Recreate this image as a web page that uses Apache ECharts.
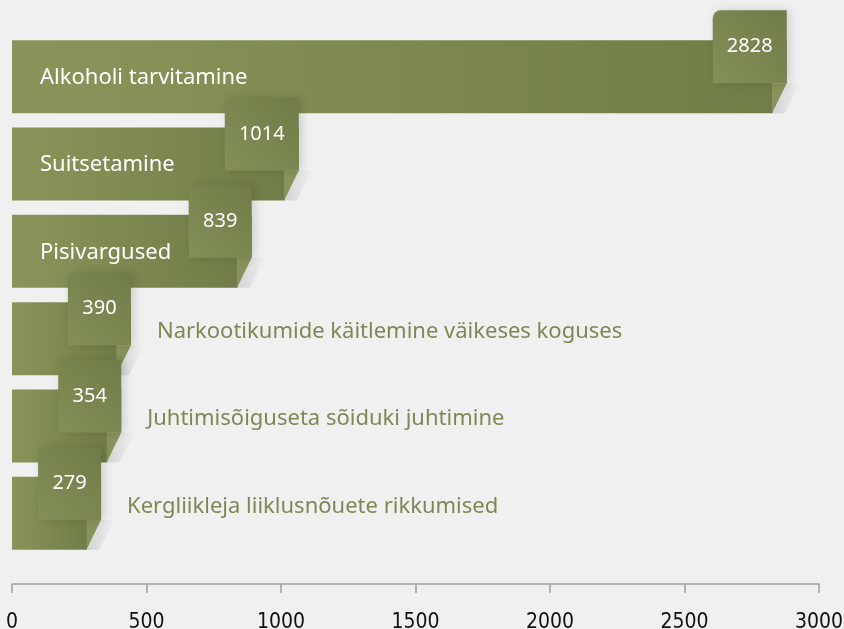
<!DOCTYPE html>
<html>
<head>
<meta charset="utf-8">
<script src="https://cdn.jsdelivr.net/npm/echarts@6/dist/echarts.min.js"></script>
<style>
html,body{margin:0;padding:0;background:#f0f0f0;}
#chart{width:844px;height:629px;}
</style>
</head>
<body>
<div id="chart"></div>
<script>
const categories = [
  'Alkoholi tarvitamine',
  'Suitsetamine',
  'Pisivargused',
  'Narkootikumide käitlemine väikeses koguses',
  'Juhtimisõiguseta sõiduki juhtimine',
  'Kergliikleja liiklusnõuete rikkumised'
];
const values = [2828, 1014, 839, 390, 354, 279];
const xTicks = [0, 500, 1000, 1500, 2000, 2500, 3000];

const FONT = "'Noto Sans', 'Open Sans', sans-serif";
const insideThreshold = 500;

function renderItem(params, api) {
  const v = api.value(0);
  const i = params.dataIndex;
  const pEnd = api.coord([v, i]);
  const x0 = api.coord([0, i])[0];
  const bandH = api.size([0, 1])[1];
  const barH = bandH * 0.835;
  const yc = pEnd[1];
  const top = yc - barH / 2, bot = yc + barH / 2;
  const xe = pEnd[0];
  const F = 14;
  const boxW = 30 + String(v).length * 11;
  const boxTop = top - 30, boxH = 73, boxBot = boxTop + boxH;
  const boxRight = xe + F, boxLeft = boxRight - boxW;
  const inside = v > insideThreshold;
  const children = [
    {
      type: 'polygon',
      shape: { points: [[xe + F, boxBot], [xe + F + 14, boxBot], [xe + 12, bot], [xe, bot]] },
      style: {
        fill: new echarts.graphic.LinearGradient(0, 0, 1, 0, [
          { offset: 0, color: 'rgba(0,0,0,0.12)' },
          { offset: 1, color: 'rgba(0,0,0,0)' }
        ])
      }
    },
    {
      type: 'rect',
      shape: { x: x0, y: top, width: xe - x0, height: barH },
      style: {
        fill: new echarts.graphic.LinearGradient(0, 0, 1, 0, [
          { offset: 0, color: '#8a945a' },
          { offset: 0.45, color: '#7f8a51' },
          { offset: 1, color: '#707d48' }
        ])
      }
    },
    {
      type: 'rect',
      shape: { x: xe - 1, y: top, width: F + 1, height: boxBot - top },
      style: { fill: '#727f4a' }
    },
    {
      type: 'polygon',
      shape: { points: [[xe - 0.5, boxBot], [xe + F, boxBot], [xe - 0.5, bot]] },
      style: { fill: '#87935a' }
    },
    {
      type: 'rect',
      shape: { x: boxLeft, y: boxTop, width: boxW, height: boxH, r: [8, 0, 0, 0] },
      style: {
        fill: new echarts.graphic.LinearGradient(0, 1, 1, 0, [
          { offset: 0, color: '#84905a' },
          { offset: 1, color: '#6f7c47' }
        ]),
        shadowBlur: 10,
        shadowOffsetX: 3,
        shadowOffsetY: 0,
        shadowColor: 'rgba(0,0,0,0.15)'
      }
    },
    {
      type: 'text',
      style: {
        text: String(v),
        x: boxLeft + boxW / 2,
        y: boxTop + boxH / 2,
        align: 'center',
        verticalAlign: 'middle',
        fill: '#ffffff',
        font: '20px ' + FONT
      }
    },
    {
      type: 'text',
      style: {
        text: categories[i],
        x: inside ? x0 + 28 : boxRight + 26,
        y: inside ? yc + 1 : yc - 7,
        align: 'left',
        verticalAlign: 'middle',
        fill: inside ? '#ffffff' : '#7d8955',
        font: '22px ' + FONT
      }
    }
  ];
  return { type: 'group', children: children };
}

const chart = echarts.init(document.getElementById('chart'), null, { renderer: 'canvas' });
chart.setOption({
  animation: false,
  backgroundColor: '#f0f0f0',
  grid: [
    { left: 12, right: 25, top: 33, bottom: 45, outerBoundsMode: 'none', containLabel: false },
    { left: 12, right: 25, top: 33, bottom: 72, outerBoundsMode: 'none', containLabel: false }
  ],
  xAxis: [
    {
      gridIndex: 0, type: 'value', min: xTicks[0], max: xTicks[xTicks.length - 1], interval: 500,
      axisLine: { show: true, lineStyle: { color: '#a0a0a0', width: 1.5 } },
      axisTick: { show: true, length: 9, lineStyle: { color: '#a0a0a0', width: 1.5 } },
      axisLabel: {
        color: '#111', fontSize: 21, margin: 28,
        fontFamily: "'Liberation Sans Narrow', 'DejaVu Sans Condensed', sans-serif",
        formatter: function (val) { return String(val); }
      },
      splitLine: { show: false }
    },
    {
      gridIndex: 1, type: 'value', min: xTicks[0], max: xTicks[xTicks.length - 1], show: false
    }
  ],
  yAxis: [
    { gridIndex: 0, type: 'value', show: false },
    { gridIndex: 1, type: 'category', data: categories, inverse: true, show: false }
  ],
  series: [{
    type: 'custom',
    xAxisIndex: 1,
    yAxisIndex: 1,
    renderItem: renderItem,
    encode: { x: 0, y: 1 },
    data: values.map((v, i) => [v, i]),
    clip: false
  }]
});
</script>
</body>
</html>
